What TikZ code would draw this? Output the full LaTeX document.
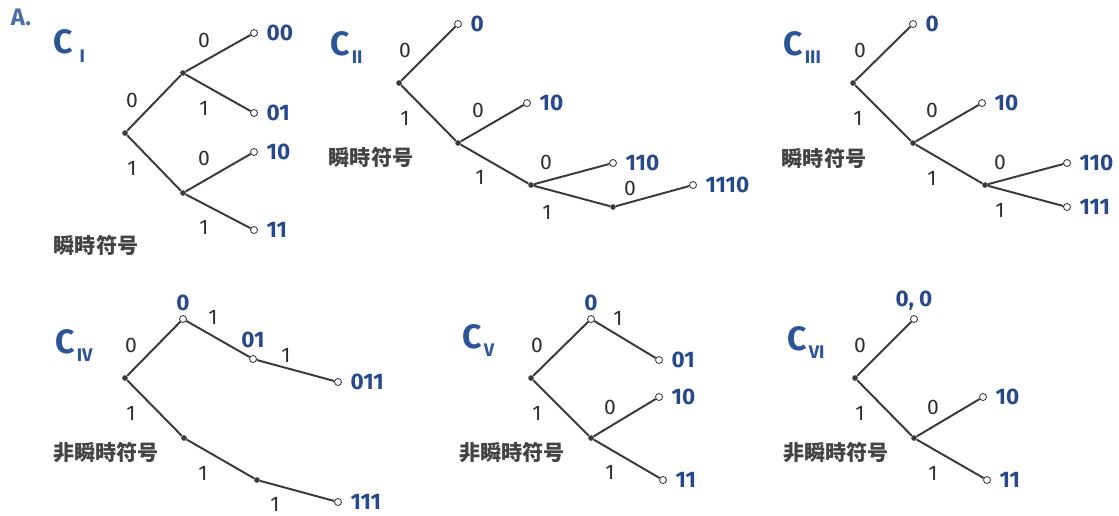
\documentclass[tikz,border=0pt]{standalone}
\usepackage{fontspec}
\setmainfont{Fira Sans}
\newfontfamily\jpfont{Noto Sans CJK JP}
\usetikzlibrary{positioning}
\definecolor{cBlue}{HTML}{27498A}
\definecolor{cTitle}{HTML}{2C5597}
\definecolor{cLine}{HTML}{3A3A3A}
\definecolor{cText}{HTML}{2E2E2E}
\newcommand{\codename}[1]{C\kern1.5pt\raisebox{-6pt}{\fontsize{13}{13}\selectfont #1}}
\tikzset{
  inode/.style={circle, fill=cLine, inner sep=0pt, minimum size=4pt},
  leaf/.style={circle, draw=cLine, fill=white, line width=0.6pt,
               inner sep=0pt, minimum size=5pt},
  tedge/.style={cLine, line width=1.4pt},
  elab/.style={font=\fontsize{15}{15}\selectfont, text=cText},
  ltxt/.style={font=\fontsize{16}{16}\selectfont\bfseries, text=cBlue, inner sep=1pt},
  kind/.style={font=\jpfont\bfseries\fontsize{15}{15}\selectfont, text=cText!90},
  cname/.style={font=\fontsize{24}{24}\selectfont\bfseries, text=cTitle,
                anchor=base west, inner sep=0pt},
}

\begin{document}
\begin{tikzpicture}[x=0.025cm, y=-0.025cm]
    \useasboundingbox (0,0) rectangle (1119,515);
    \node[font=\fontsize{17}{17}\selectfont\bfseries, text=cTitle!85] (tag) at (21,17) {A.};

    % C_I
    \node[cname] (nI) at (53,53) {C\kern5pt\raisebox{-7pt}{\fontsize{13}{13}\selectfont I}};
    \node[inode] (a0)  at (125,133) {};
    \node[inode] (a1)  at (183,73) {};
    \node[inode] (a2)  at (183,193) {};
    \node[leaf]  (a00) at (254,33) {};
    \node[leaf]  (a01) at (254,113) {};
    \node[leaf]  (a10) at (254,152) {};
    \node[leaf]  (a11) at (254,230) {};
    \draw[tedge] (a0) -- (a1);
    \draw[tedge] (a0) -- (a2);
    \draw[tedge] (a1) -- (a00);
    \draw[tedge] (a1) -- (a01);
    \draw[tedge] (a2) -- (a10);
    \draw[tedge] (a2) -- (a11);
    \node[elab] (ea1) at (132,100) {0};
    \node[elab] (ea2) at (132,168) {1};
    \node[elab] (ea3) at (204,40) {0};
    \node[elab] (ea4) at (204,108) {1};
    \node[elab] (ea5) at (204,158) {0};
    \node[elab] (ea6) at (204,227) {1};
    \node[ltxt, right=5pt of a00] (ta00) {00};
    \node[ltxt, right=5pt of a01] (ta01) {01};
    \node[ltxt, right=5pt of a10] (ta10) {10};
    \node[ltxt, right=5pt of a11] (ta11) {11};
    \node[kind] (ka) at (96,245) {瞬時符号};

    % C_II
    \node[cname] (nII) at (330,55) {\codename{II}};
    \node[inode] (b0)    at (399,83) {};
    \node[inode] (b1)    at (458,143) {};
    \node[inode] (b2)    at (531,185) {};
    \node[inode] (b3)    at (613,207) {};
    \node[leaf]  (b0l)   at (458,24) {};
    \node[leaf]  (b10l)  at (527,103) {};
    \node[leaf]  (b110l) at (613,163) {};
    \node[leaf]  (b1110l) at (693,185) {};
    \draw[tedge] (b0) -- (b0l);
    \draw[tedge] (b0) -- (b1);
    \draw[tedge] (b1) -- (b10l);
    \draw[tedge] (b1) -- (b2);
    \draw[tedge] (b2) -- (b110l);
    \draw[tedge] (b2) -- (b3);
    \draw[tedge] (b3) -- (b1110l);
    \node[elab] (eb1) at (405,50) {0};
    \node[elab] (eb2) at (405,118) {1};
    \node[elab] (eb3) at (478,110) {0};
    \node[elab] (eb4) at (480,177) {1};
    \node[elab] (eb5) at (546,162) {0};
    \node[elab] (eb6) at (547,212) {1};
    \node[elab] (eb7) at (630,188) {0};
    \node[ltxt, right=5pt of b0l] (tb0) {0};
    \node[ltxt, right=5pt of b10l] (tb10) {10};
    \node[ltxt, right=5pt of b110l] (tb110) {110};
    \node[ltxt, right=5pt of b1110l] (tb1110) {1110};
    \node[kind] (kb) at (371,157) {瞬時符号};

    % C_III
    \node[cname] (nIII) at (783,55) {\codename{III}};
    \node[inode] (c0)   at (853,83) {};
    \node[inode] (c1)   at (913,143) {};
    \node[inode] (c2)   at (985,185) {};
    \node[leaf]  (c0l)  at (913,24) {};
    \node[leaf]  (c10l) at (982,103) {};
    \node[leaf]  (c110l) at (1067,163) {};
    \node[leaf]  (c111l) at (1067,207) {};
    \draw[tedge] (c0) -- (c0l);
    \draw[tedge] (c0) -- (c1);
    \draw[tedge] (c1) -- (c10l);
    \draw[tedge] (c1) -- (c2);
    \draw[tedge] (c2) -- (c110l);
    \draw[tedge] (c2) -- (c111l);
    \node[elab] (ec1) at (860,50) {0};
    \node[elab] (ec2) at (858,118) {1};
    \node[elab] (ec3) at (932,110) {0};
    \node[elab] (ec4) at (932,178) {1};
    \node[elab] (ec5) at (1000,162) {0};
    \node[elab] (ec6) at (1000,210) {1};
    \node[ltxt, right=5pt of c0l] (tc0) {0};
    \node[ltxt, right=5pt of c10l] (tc10) {10};
    \node[ltxt, right=5pt of c110l] (tc110) {110};
    \node[ltxt, right=5pt of c111l] (tc111) {111};
    \node[kind] (kc) at (824,158) {瞬時符号};

    % C_IV
    \node[cname] (nIV) at (55,353) {\codename{IV}};
    \node[inode] (d0)    at (125,378) {};
    \node[inode] (d1)    at (184,438) {};
    \node[inode] (d2)    at (257,480) {};
    \node[leaf]  (d0l)   at (183,319) {};
    \node[leaf]  (d01l)  at (253,359) {};
    \node[leaf]  (d011l) at (338,382) {};
    \node[leaf]  (d111l) at (338,502) {};
    \draw[tedge] (d0) -- (d0l);
    \draw[tedge] (d0l) -- (d01l);
    \draw[tedge] (d01l) -- (d011l);
    \draw[tedge] (d0) -- (d1);
    \draw[tedge] (d1) -- (d2);
    \draw[tedge] (d2) -- (d111l);
    \node[elab] (ed1) at (131,345) {0};
    \node[elab] (ed2) at (131,413) {1};
    \node[elab] (ed3) at (213,317) {1};
    \node[elab] (ed4) at (286,355) {1};
    \node[elab] (ed5) at (203,473) {1};
    \node[elab] (ed6) at (275,504) {1};
    \node[ltxt, above=2pt of d0l] (td0) {0};
    \node[ltxt, above=4pt of d01l] (td01) {01};
    \node[ltxt, right=5pt of d011l] (td011) {011};
    \node[ltxt, right=5pt of d111l] (td111) {111};
    \node[kind] (kd) at (106,453) {非瞬時符号};

    % C_V
    \node[cname] (nV) at (462,348) {\codename{V}};
    \node[inode] (e0)   at (531,378) {};
    \node[inode] (e1)   at (591,438) {};
    \node[leaf]  (e0l)  at (591,319) {};
    \node[leaf]  (e01l) at (659,360) {};
    \node[leaf]  (e10l) at (659,397) {};
    \node[leaf]  (e11l) at (663,480) {};
    \draw[tedge] (e0) -- (e0l);
    \draw[tedge] (e0l) -- (e01l);
    \draw[tedge] (e0) -- (e1);
    \draw[tedge] (e1) -- (e10l);
    \draw[tedge] (e1) -- (e11l);
    \node[elab] (ee1) at (537,345) {0};
    \node[elab] (ee2) at (537,413) {1};
    \node[elab] (ee3) at (618,318) {1};
    \node[elab] (ee4) at (610,407) {0};
    \node[elab] (ee5) at (610,472) {1};
    \node[ltxt, above=2pt of e0l] (te0) {0};
    \node[ltxt, right=5pt of e01l] (te01) {01};
    \node[ltxt, right=5pt of e10l] (te10) {10};
    \node[ltxt, right=5pt of e11l] (te11) {11};
    \node[kind] (ke) at (512,453) {非瞬時符号};

    % C_VI
    \node[cname] (nVI) at (787,350) {\codename{VI}};
    \node[inode] (f0)   at (855,378) {};
    \node[inode] (f1)   at (914,438) {};
    \node[leaf]  (f00l) at (914,319) {};
    \node[leaf]  (f10l) at (983,397) {};
    \node[leaf]  (f11l) at (987,480) {};
    \draw[tedge] (f0) -- (f00l);
    \draw[tedge] (f0) -- (f1);
    \draw[tedge] (f1) -- (f10l);
    \draw[tedge] (f1) -- (f11l);
    \node[elab] (ef1) at (860,345) {0};
    \node[elab] (ef2) at (860,413) {1};
    \node[elab] (ef3) at (933,407) {0};
    \node[elab] (ef4) at (933,473) {1};
    \node[ltxt, above=2pt of f00l] (tf00) {0, 0};
    \node[ltxt, right=5pt of f10l] (tf10) {10};
    \node[ltxt, right=5pt of f11l] (tf11) {11};
    \node[kind] (kf) at (836,453) {非瞬時符号};
  \end{tikzpicture}
\end{document}
